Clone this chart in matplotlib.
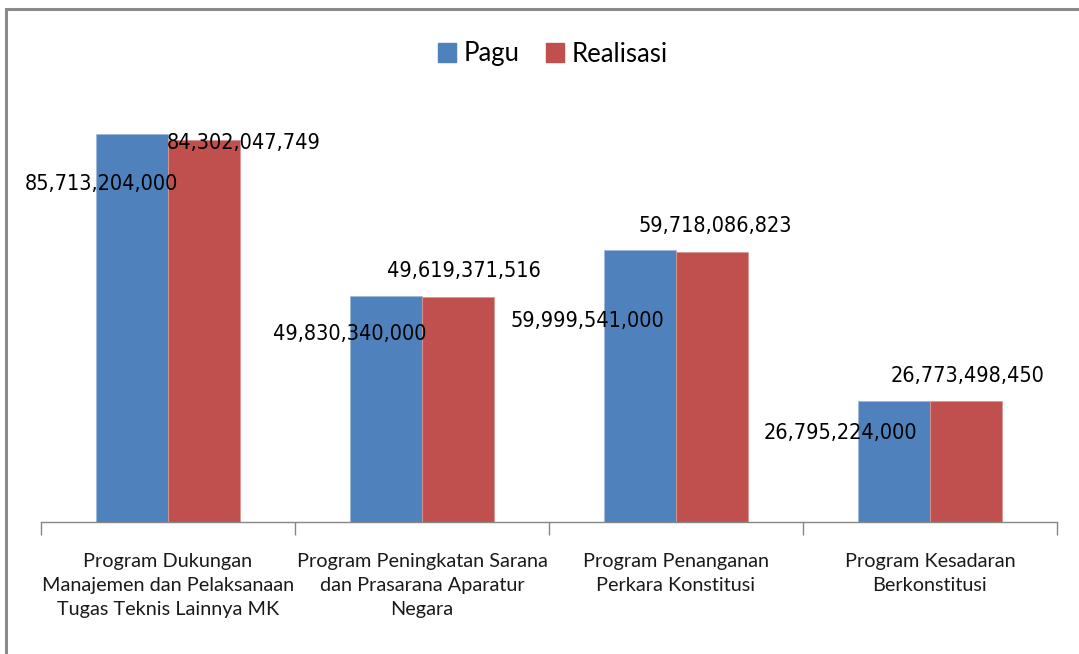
import matplotlib
matplotlib.use("Agg")
import matplotlib.pyplot as plt
import numpy as np
from matplotlib.patches import Rectangle

categories = [
    "Program Dukungan\nManajemen dan Pelaksanaan\nTugas Teknis Lainnya MK",
    "Program Peningkatan Sarana\ndan Prasarana Aparatur\nNegara",
    "Program Penanganan\nPerkara Konstitusi",
    "Program Kesadaran\nBerkonstitusi",
]
pagu = [85713204000, 49830340000, 59999541000, 26795224000]
realisasi = [84302047749, 49619371516, 59718086823, 26773498450]
series_names = ["Pagu", "Realisasi"]

# manual label offsets (pixels, relative to bar top centre)
pagu_off = [(-31, -50), (-36, -38), (-53, -71), (-54, -32)]
real_off = [(40, -3), (6, 26), (3, 26), (2, 25)]

c_blue = "#4F81BD"
c_red = "#C0504D"

W, H = 1079, 654
fig = plt.figure(figsize=(W / 100, H / 100), dpi=100)

# outer frame (left + top visible)
fig.patches.append(Rectangle((6 / W, -0.1), 1.2, (H - 9) / H + 0.1, transform=fig.transFigure,
                             fill=False, edgecolor="#8a8a8a", linewidth=2.2))

ax_left, ax_right = 41, 1057
ax_bottom = 522
ax_top = 522 - 452.7
ax = fig.add_axes([ax_left / W, (H - ax_bottom) / H, (ax_right - ax_left) / W, (ax_bottom - ax_top) / H])

x = np.arange(len(categories))
bw = 0.283
ax.bar(x - bw / 2, pagu, bw, color=c_blue, edgecolor="#9db8db", linewidth=0.6)
ax.bar(x + bw / 2, realisasi, bw, color=c_red, edgecolor="#d99694", linewidth=0.6)

ax.set_xlim(-0.5, len(categories) - 0.5)
ax.set_ylim(0, 1e11)

for s in ["top", "right", "left"]:
    ax.spines[s].set_visible(False)
ax.spines["bottom"].set_color("#868686")
ax.spines["bottom"].set_linewidth(1.0)
ax.set_yticks([])

ax.set_xticks(x)
ax.set_xticklabels(categories, fontsize=14.3, family="Lato", linespacing=1.52, color="#1a1a1a")
ax.tick_params(axis="x", which="major", length=0, pad=22)
ax.set_xticks(np.arange(-0.5, len(categories), 1.0), minor=True)
ax.tick_params(axis="x", which="minor", length=9, color="#868686", width=1.0)

lab_font = dict(fontsize=15.5, family="DejaVu Sans", fontstretch="condensed", color="black")
for i in range(len(categories)):
    ax.annotate(f"{pagu[i]:,}", (x[i] - bw / 2, pagu[i]), xytext=pagu_off[i],
                textcoords="offset pixels", ha="center", va="center", **lab_font)
    ax.annotate(f"{realisasi[i]:,}", (x[i] + bw / 2, realisasi[i]), xytext=real_off[i],
                textcoords="offset pixels", ha="center", va="center", **lab_font)

handles = [Rectangle((0, 0), 1, 1, color=c_blue), Rectangle((0, 0), 1, 1, color=c_red)]
fig.legend(handles, series_names, loc="center", bbox_to_anchor=(553 / W, 1 - 54 / H), ncol=2,
           frameon=False, prop={"family": "Lato", "size": 18.5}, handlelength=0.7, handleheight=0.75,
           handletextpad=0.3, columnspacing=1.0)

fig.savefig("out.png", dpi=100)
